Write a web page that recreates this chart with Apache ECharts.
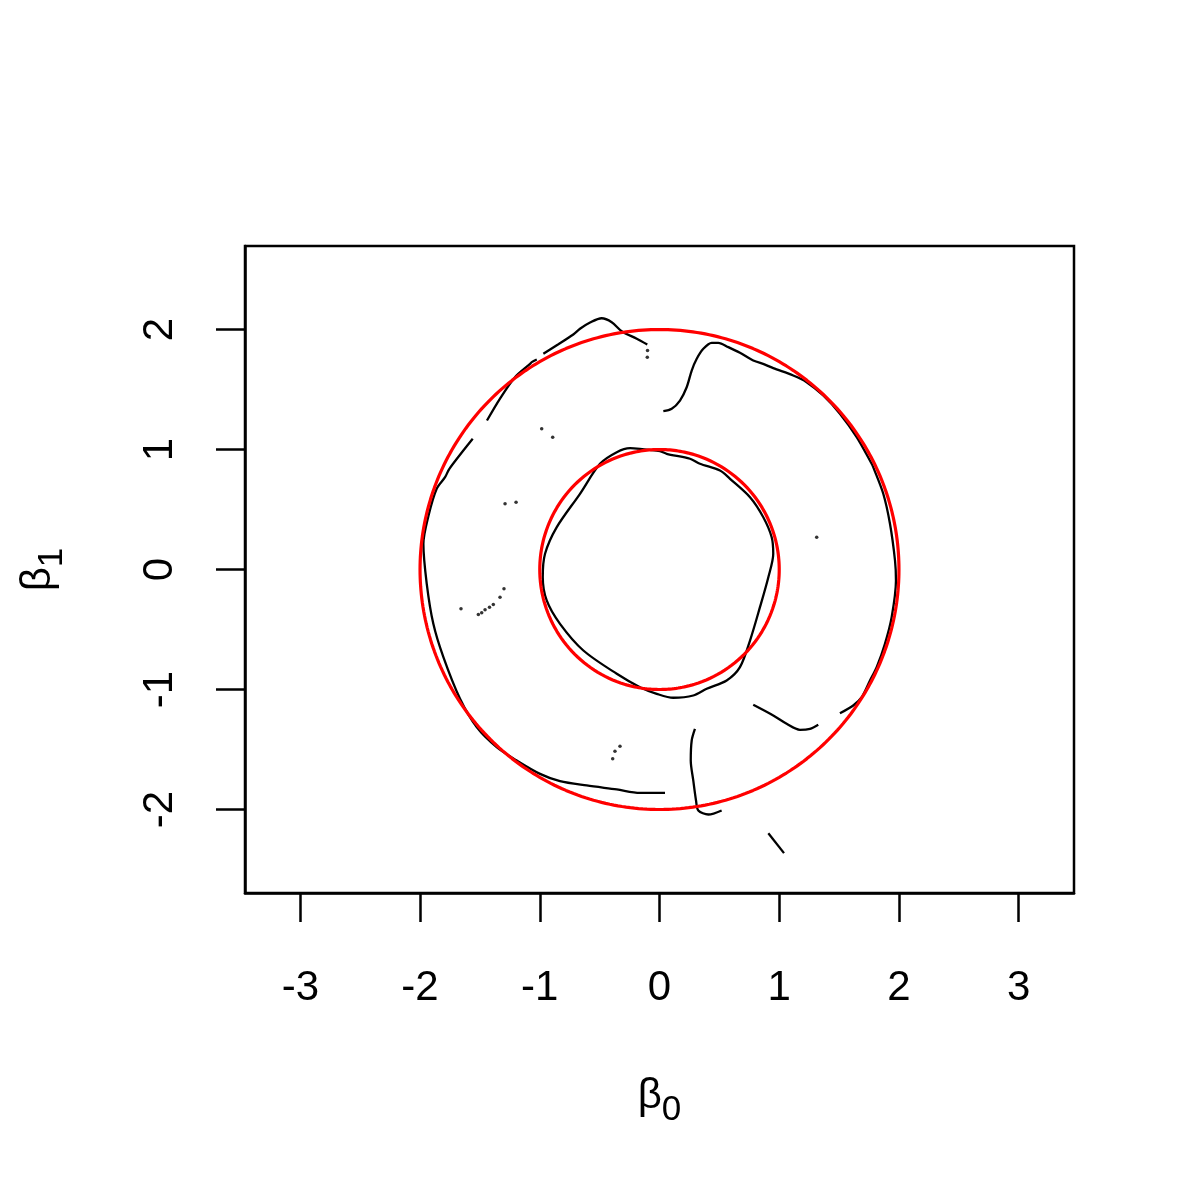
<!DOCTYPE html>
<html><head><meta charset="utf-8">
<script src="https://cdn.jsdelivr.net/npm/echarts@6/dist/echarts.min.js"></script>
<style>html,body{margin:0;padding:0;background:#fff}#c{width:1200px;height:1200px}</style>
</head><body><div id="c"></div>
<script>
const xTicks = [-3, -2, -1, 0, 1, 2, 3];
const yTicks = [-2, -1, 0, 1, 2];
const circleRadii = [1, 2];

const innerCurve = [[-0.163,1.006],[0.004,0.986],[0.060,0.964],[0.255,0.923],[0.338,0.881],[0.505,0.825],[0.589,0.756],[0.756,0.603],[0.867,0.436],[0.937,0.269],[0.950,0.131],[0.909,-0.064],[0.839,-0.314],[0.756,-0.592],[0.672,-0.814],[0.561,-0.925],[0.394,-0.994],[0.282,-1.050],[0.115,-1.069],[-0.023,-1.036],[-0.163,-0.981],[-0.357,-0.869],[-0.636,-0.675],[-0.831,-0.453],[-0.942,-0.258],[-0.975,-0.064],[-0.956,0.131],[-0.858,0.353],[-0.664,0.631],[-0.497,0.881],[-0.357,0.978],[-0.246,1.011],[-0.163,1.006]];
const topHump = [[-0.970,1.798],[-0.848,1.875],[-0.720,1.958],[-0.664,2.006],[-0.580,2.058],[-0.483,2.094],[-0.399,2.061],[-0.316,1.986],[-0.190,1.923],[-0.102,1.875]];
const upperLeftPiece = [[-1.025,1.750],[-1.067,1.728],[-1.081,1.714],[-1.207,1.603],[-1.332,1.425],[-1.441,1.242]];
const outerLeftCurve = [[-1.560,1.089],[-1.755,0.839],[-1.791,0.769],[-1.861,0.673],[-1.929,0.450],[-1.972,0.214],[-1.944,-0.119],[-1.889,-0.453],[-1.805,-0.731],[-1.666,-1.078],[-1.527,-1.314],[-1.360,-1.481],[-1.192,-1.592],[-0.998,-1.703],[-0.831,-1.764],[-0.608,-1.800],[-0.357,-1.833],[-0.163,-1.861],[0.046,-1.861]];
const outerRightCurve = [[0.032,1.319],[0.102,1.339],[0.171,1.408],[0.227,1.519],[0.269,1.658],[0.311,1.756],[0.366,1.839],[0.436,1.889],[0.491,1.889],[0.575,1.853],[0.672,1.806],[0.783,1.742],[0.881,1.708],[0.950,1.678],[1.117,1.617],[1.229,1.561],[1.368,1.450],[1.507,1.298],[1.647,1.103],[1.772,0.881],[1.785,0.853],[1.869,0.631],[1.925,0.381],[1.967,0.075],[1.975,-0.092],[1.939,-0.398],[1.883,-0.619],[1.814,-0.814],[1.758,-0.925],[1.689,-1.064],[1.618,-1.133],[1.507,-1.198]];
const lowerRightHook = [[0.783,-1.128],[0.950,-1.217],[1.062,-1.286],[1.173,-1.336],[1.257,-1.328],[1.326,-1.294]];
const lowerWiggle = [[0.296,-1.328],[0.269,-1.425],[0.261,-1.592],[0.282,-1.758],[0.305,-1.925],[0.324,-2.008],[0.408,-2.042],[0.519,-2.008]];
const lowerTail = [[0.909,-2.198],[1.040,-2.364]];
const strayDots = [[-0.100,1.825],[-0.102,1.769],[-0.984,1.173],[-0.892,1.103],[-1.290,0.548],[-1.198,0.561],[1.313,0.269],[-0.391,-1.578],[-0.372,-1.514],[-0.330,-1.473],[-1.658,-0.328],[-1.513,-0.375],[-1.485,-0.360],[-1.457,-0.336],[-1.420,-0.315],[-1.388,-0.292],[-1.332,-0.231],[-1.299,-0.161]];

const blackCurves = [innerCurve, topHump, upperLeftPiece, outerLeftCurve, outerRightCurve, lowerRightHook, lowerWiggle, lowerTail];

function circlePoints(r) {
  const pts = [];
  for (let i = 0; i <= 360; i++) {
    const a = i * Math.PI / 180;
    pts.push([r * Math.cos(a), r * Math.sin(a)]);
  }
  return pts;
}

const FONT = '"Liberation Sans", Arial, sans-serif';
const series = [];
blackCurves.forEach(d => series.push({
  type: 'line', data: d, showSymbol: false, symbol: 'none', smooth: 0.3,
  lineStyle: { color: '#000', width: 2.3 }, silent: true, animation: false, z: 2
}));
series.push({
  type: 'scatter', data: strayDots, symbolSize: 3.5,
  itemStyle: { color: '#000' }, silent: true, animation: false, z: 2
});
circleRadii.forEach(r => series.push({
  type: 'line', data: circlePoints(r), showSymbol: false, symbol: 'none',
  lineStyle: { color: '#ff0000', width: 3.2 }, silent: true, animation: false, z: 3
}));

const chart = echarts.init(document.getElementById('c'), null, { renderer: 'canvas' });
chart.setOption({
  backgroundColor: '#fff',
  animation: false,
  grid: { left: 245, top: 246, width: 829, height: 647, show: true, borderColor: '#000', borderWidth: 2.5, backgroundColor: 'transparent' },
  xAxis: {
    type: 'value', min: -3.462, max: 3.462,
    axisLine: { show: true, onZero: false, lineStyle: { color: '#000', width: 2.5 } },
    axisTick: { show: true, customValues: xTicks, length: 29, inside: false, lineStyle: { color: '#000', width: 2.5 } },
    axisLabel: { customValues: xTicks, fontSize: 42, color: '#000', fontFamily: FONT, margin: 74 },
    splitLine: { show: false },
    name: '{a|β}{b|0}', nameLocation: 'middle', nameGap: 182,
    nameTextStyle: {
      rich: {
        a: { fontSize: 42, fontFamily: FONT, color: '#000', verticalAlign: 'top', lineHeight: 48 },
        b: { fontSize: 35, fontFamily: FONT, color: '#000', verticalAlign: 'top', lineHeight: 40, padding: [18, 0, 0, 0] }
      }
    }
  },
  yAxis: {
    type: 'value', min: -2.696, max: 2.696,
    axisLine: { show: true, onZero: false, lineStyle: { color: '#000', width: 2.5 } },
    axisTick: { show: true, customValues: yTicks, length: 29, inside: false, lineStyle: { color: '#000', width: 2.5 } },
    axisLabel: { customValues: yTicks, fontSize: 42, color: '#000', fontFamily: FONT, margin: 64, rotate: 90, align: 'center', verticalAlign: 'bottom' },
    splitLine: { show: false },
    name: '{a|β}{b|1}', nameLocation: 'middle', nameGap: 180, nameRotate: 90,
    nameTextStyle: {
      rich: {
        a: { fontSize: 42, fontFamily: FONT, color: '#000', verticalAlign: 'top', lineHeight: 48 },
        b: { fontSize: 35, fontFamily: FONT, color: '#000', verticalAlign: 'top', lineHeight: 40, padding: [18, 0, 0, 0] }
      }
    }
  },
  series: series
});
</script>
</body></html>
